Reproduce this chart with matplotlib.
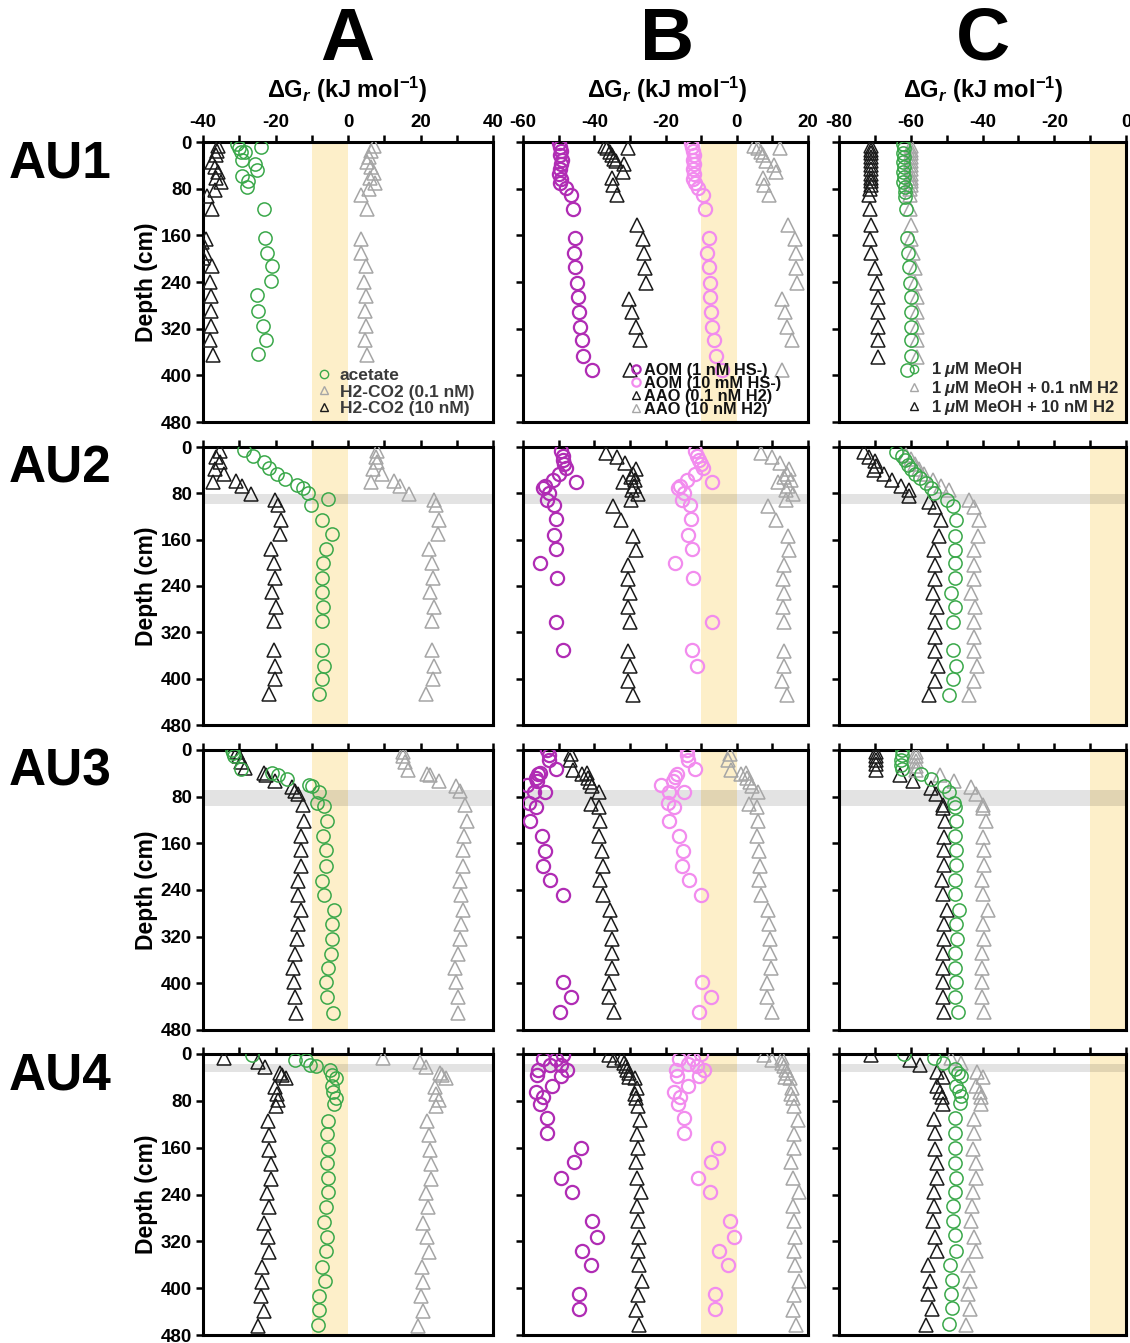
"""Gibbs energy depth profiles for four cores (AU1-AU4) and three reaction groups."""

import matplotlib
matplotlib.use("Agg")
import matplotlib.pyplot as plt
from matplotlib.lines import Line2D
from matplotlib.ticker import MultipleLocator

plt.rcParams["font.family"] = ["Liberation Sans", "DejaVu Sans"]
plt.rcParams["font.weight"] = "bold"
plt.rcParams["axes.unicode_minus"] = False
plt.rcParams["mathtext.fontset"] = "custom"
plt.rcParams["mathtext.rm"] = "Liberation Sans:bold"
plt.rcParams["mathtext.it"] = "Liberation Sans:italic:bold"
plt.rcParams["mathtext.bf"] = "Liberation Sans:bold"

GREEN = "#3aa84a"
MAGENTA = "#b02cb4"
PINK = "#f28cee"
GRAY = "#a6a6a6"
BLACK = "#1a1a1a"

# ---------------- AU1 ----------------
au1_a_acetate_depth = [3, 10, 17, 17, 9, 30, 38, 48, 59, 67, 77, 114, 164, 190, 213, 238, 263, 290, 315, 339, 364]
au1_a_acetate = [-30.5, -30.1, -29.5, -28.4, -24.0, -29.2, -25.7, -25.2, -29.2, -27.5, -28.0, -23.1, -22.8,
                 -22.4, -21.1, -21.3, -25.2, -24.8, -23.4, -22.5, -24.8]
au1_a_h2hi_depth = [7, 16, 22, 34, 42, 52, 62, 69, 82, 92, 115, 166, 171, 191, 199, 213, 240, 264, 290, 316, 340, 365]
au1_a_h2hi = [-36.0, -36.2, -36.4, -37.4, -36.7, -36.0, -36.4, -35.0, -36.7, -39.0, -37.4, -39.3, -40.4, -39.5,
              -40.0, -37.6, -38.1, -37.8, -37.8, -37.8, -38.0, -37.2]
au1_a_h2lo_depth = [7, 16, 25, 34, 43, 53, 62, 70, 80, 90, 115, 166, 191, 213, 240, 264, 290, 316, 340, 365]
au1_a_h2lo = [7.2, 6.4, 5.9, 5.3, 6.4, 7.2, 6.2, 7.5, 5.9, 3.7, 5.2, 3.5, 3.7, 4.9, 4.4, 5.0, 4.8, 5.0, 4.8, 5.3]

au1_b_aom1_depth = [1, 9, 16, 23, 30, 38, 46, 54, 63, 71, 79, 90, 114, 165, 190, 214, 241, 266, 291, 317, 340, 366, 390]
au1_b_aom1 = [-49.9, -49.7, -49.4, -49.7, -49.1, -49.4, -49.7, -49.9, -49.4, -49.7, -48.0, -46.5, -46.1, -45.4,
              -45.7, -45.4, -44.9, -44.6, -44.3, -44.0, -43.4, -43.1, -40.7]
au1_b_aom10_depth = [1, 9, 16, 23, 30, 38, 46, 54, 63, 71, 79, 90, 114, 165, 190, 214, 241, 266, 291, 317, 340, 366,
                     390]
au1_b_aom10 = [-12.8, -12.6, -12.2, -12.0, -12.2, -11.9, -12.2, -11.9, -12.2, -11.7, -10.9, -9.4, -9.0, -7.9,
               -8.3, -7.9, -7.5, -7.5, -7.2, -7.0, -6.4, -5.8, -4.2]
au1_b_aaoblk_depth = [6, 11, 17, 23, 29, 33, 11, 37, 51, 62, 73, 91, 142, 167, 191, 216, 241, 269, 291, 317, 340, 391]
au1_b_aaoblk = [-37.1, -36.4, -35.6, -35.1, -34.5, -33.9, -30.6, -31.7, -31.9, -35.1, -34.7, -33.7, -28.1, -26.3,
                -26.1, -25.8, -25.5, -30.3, -29.4, -28.3, -27.2, -30.0]
au1_b_aaogry_depth = [6, 11, 17, 23, 32, 11, 40, 51, 62, 73, 91, 142, 167, 191, 216, 241, 269, 291, 317, 340, 391]
au1_b_aaogry = [4.8, 6.0, 6.7, 7.4, 8.2, 12.1, 10.4, 11.0, 7.4, 7.6, 9.0, 14.4, 16.4, 16.6, 16.6, 16.9, 12.7,
                13.5, 14.2, 15.5, 12.7]

au1_c_meoh_depth = [3, 10, 18, 26, 34, 43, 51, 60, 69, 77, 86, 94, 115, 165, 190, 214, 241, 266, 291, 317, 340, 366, 390]
au1_c_meoh = [-62.2, -62.0, -62.2, -62.0, -62.2, -62.0, -62.2, -62.0, -62.2, -61.7, -61.7, -61.7, -61.3, -61.1,
              -60.9, -60.6, -60.2, -60.0, -60.0, -60.0, -60.0, -60.0, -61.1]
au1_c_h2_depth = [6, 13, 19, 26, 33, 40, 47, 54, 61, 67, 74, 81, 91, 115, 142, 167, 191, 216, 241, 266, 291, 317, 340, 369]
au1_c_h2lo = [-60.0, -60.0, -59.9, -60.0, -59.9, -60.0, -59.9, -60.0, -60.0, -59.9, -60.0, -60.1, -60.2, -60.2,
              -60.0, -59.8, -59.4, -58.9, -58.7, -58.3, -58.3, -58.3, -58.3, -58.3]
au1_c_h2hi = [-71.1, -71.1, -71.0, -71.1, -71.0, -71.1, -71.0, -71.1, -71.1, -71.0, -71.1, -71.3, -71.7, -71.4,
              -71.1, -71.4, -71.0, -70.0, -69.4, -69.1, -69.1, -69.1, -69.1, -69.1]

# ---------------- AU2 ----------------
au2_a_acetate_depth = [6, 16, 26, 36, 46, 56, 66, 71, 79, 100, 90, 126, 151, 176, 201, 226, 251, 276, 301, 351, 378, 401, 426]
au2_a_acetate = [-28.6, -26.1, -23.3, -21.8, -19.6, -17.5, -14.1, -12.5, -11.0, -10.2, -5.6, -7.1, -4.4, -6.2,
                 -6.9, -7.1, -7.3, -6.8, -7.1, -7.3, -6.5, -7.1, -7.9]
au2_a_h2_depth = [7, 17, 26, 38, 46, 61, 58, 68, 81, 91, 101, 126, 151, 176, 201, 226, 251, 276, 301, 351, 378, 401, 426]
au2_a_h2hi = [-35.4, -36.3, -35.4, -36.8, -34.2, -37.2, -31.0, -29.2, -26.8, -20.1, -19.4, -18.4, -18.7, -21.2,
              -20.3, -20.1, -21.0, -19.9, -20.3, -20.3, -20.1, -20.1, -21.9]
au2_a_h2lo = [8.1, 7.7, 8.1, 6.8, 9.4, 6.3, 12.6, 14.4, 16.8, 23.6, 24.2, 25.1, 24.8, 22.3, 23.2, 23.4, 22.5,
              23.6, 23.2, 23.2, 23.6, 23.4, 21.6]

au2_b_aom1_depth = [7, 15, 23, 30, 36, 47, 57, 61, 67, 71, 80, 91, 101, 125, 152, 176, 201, 226, 302, 351]
au2_b_aom1 = [-49.2, -48.9, -48.7, -48.5, -47.8, -49.8, -51.7, -45.1, -53.9, -54.5, -52.7, -53.4, -51.3, -50.8,
              -51.3, -50.6, -55.3, -50.4, -50.8, -48.9]
au2_b_aom10_depth = [7, 15, 23, 30, 36, 47, 57, 61, 67, 71, 80, 91, 101, 125, 152, 176, 201, 226, 302, 351, 378]
au2_b_aom10 = [-11.6, -11.1, -10.6, -10.1, -9.4, -11.8, -13.9, -7.0, -16.0, -16.5, -14.7, -15.3, -13.2, -12.8,
               -13.7, -12.5, -17.4, -12.2, -7.0, -12.5, -11.1]
au2_b_aao_depth = [10, 17, 28, 38, 47, 51, 61, 57, 67, 74, 81, 92, 102, 126, 154, 178, 203, 228, 252, 277, 302,
                   353, 378, 404, 428]
au2_b_aaoblk = [-36.7, -33.7, -31.3, -28.2, -29.0, -29.7, -32.0, -28.5, -28.8, -29.4, -27.8, -29.7, -34.6, -32.5,
                -29.1, -28.2, -30.4, -30.4, -30.1, -30.4, -30.1, -30.4, -30.1, -30.6, -29.1]
au2_b_aaogry = [6.8, 9.8, 12.2, 14.8, 14.1, 13.4, 11.5, 15.1, 14.5, 13.8, 15.7, 13.8, 8.9, 11.0, 14.3, 14.8,
                13.2, 12.9, 13.4, 12.9, 13.2, 13.2, 13.2, 12.6, 14.1]

au2_c_meoh_depth = [8, 15, 23, 31, 38, 46, 54, 63, 71, 80, 92, 102, 126, 154, 178, 201, 226, 252, 277, 302, 351,
                    378, 400, 428]
au2_c_meoh = [-64.0, -62.5, -61.5, -60.9, -60.0, -58.8, -57.4, -55.8, -54.4, -53.4, -50.0, -48.3, -47.4, -47.6,
              -47.8, -47.8, -47.8, -48.8, -47.6, -48.1, -48.1, -47.4, -48.1, -49.2]
au2_c_h2hi_depth = [8, 17, 25, 32, 40, 47, 57, 67, 74, 84, 95, 104, 126, 154, 178, 203, 228, 252, 277, 302, 328,
                    353, 378, 404, 428]
au2_c_h2hi = [-73.0, -71.6, -69.9, -69.7, -70.2, -67.4, -65.1, -62.8, -60.4, -60.4, -54.8, -53.2, -51.6, -52.2,
              -53.4, -53.2, -53.2, -53.9, -52.8, -53.2, -53.2, -53.2, -52.5, -53.2, -54.8]
au2_c_h2lo_depth = [13, 21, 30, 38, 47, 57, 67, 74, 92, 104, 126, 154, 178, 203, 228, 252, 277, 302, 328, 353,
                    378, 404, 428]
au2_c_h2lo = [-61.4, -60.0, -58.8, -57.8, -56.2, -53.9, -51.6, -49.4, -43.7, -42.3, -40.9, -41.3, -42.5, -42.3,
              -42.3, -43.2, -42.0, -42.5, -42.5, -42.5, -41.6, -42.3, -43.7]

# ---------------- AU3 ----------------
au3_a_acetate_depth = [0, 5, 11, 32, 40, 43, 50, 60, 61, 72, 91, 96, 122, 148, 172, 198, 224, 248, 275, 299, 324,
                       349, 374, 398, 424, 450]
au3_a_acetate = [-32.1, -31.7, -31.5, -29.4, -21.0, -19.2, -16.9, -10.8, -9.9, -7.9, -8.5, -6.7, -5.9, -6.9,
                 -6.2, -6.0, -7.3, -6.7, -3.9, -4.4, -4.4, -4.8, -5.5, -6.0, -5.7, -4.2]
au3_a_h2hi_depth = [3, 11, 20, 31, 40, 43, 53, 63, 70, 76, 94, 122, 148, 172, 198, 224, 248, 275, 299, 324, 349,
                    374, 398, 424, 450]
au3_a_h2hi = [-30.5, -30.1, -29.4, -28.4, -23.3, -22.7, -20.1, -15.5, -14.5, -13.8, -12.5, -12.2, -12.9, -12.9,
              -13.1, -13.8, -13.8, -13.1, -13.8, -14.1, -14.7, -15.3, -15.0, -14.5, -14.4]
au3_a_h2lo_depth = [3, 11, 20, 34, 41, 43, 53, 61, 71, 94, 122, 148, 172, 198, 224, 248, 275, 299, 324, 349, 374,
                    398, 424, 450]
au3_a_h2lo = [15.1, 15.3, 15.6, 16.5, 21.8, 22.5, 25.1, 29.9, 30.8, 32.2, 32.7, 31.9, 31.8, 31.8, 31.0, 31.3,
              31.6, 31.3, 30.8, 30.4, 29.4, 29.9, 30.4, 30.4]

au3_b_aom1_depth = [0, 9, 17, 32, 41, 40, 48, 53, 60, 72, 72, 91, 97, 122, 148, 173, 199, 223, 248, 398, 423, 449]
au3_b_aom1 = [-53.2, -52.7, -52.7, -50.6, -55.8, -55.3, -56.4, -56.2, -58.9, -57.0, -53.9, -58.3, -56.4, -57.9,
              -54.8, -53.9, -54.4, -52.5, -48.9, -48.7, -46.4, -49.5]
au3_b_aom10_depth = [0, 9, 17, 32, 41, 46, 53, 60, 72, 72, 91, 97, 122, 148, 173, 199, 223, 248, 398, 423, 449]
au3_b_aom10 = [-14.1, -13.9, -13.7, -11.6, -16.7, -17.2, -17.9, -21.4, -19.1, -14.8, -19.4, -17.5, -19.1, -16.3,
               -15.0, -15.3, -13.4, -10.0, -9.7, -7.3, -10.6]
au3_b_aao_depth = [6, 17, 34, 41, 40, 48, 54, 61, 72, 93, 98, 122, 148, 173, 199, 223, 248, 274, 298, 324, 348,
                   373, 399, 423, 449]
au3_b_aaoblk = [-46.4, -46.8, -46.1, -43.5, -42.1, -41.7, -41.2, -40.7, -38.8, -41.0, -38.8, -38.4, -38.8, -37.9,
                -37.6, -38.4, -37.6, -35.5, -35.4, -35.1, -35.1, -35.1, -36.0, -36.0, -34.4]
au3_b_aaogry = [-1.9, -2.4, -1.7, 1.1, 2.6, 3.0, 3.8, 4.2, 5.9, 3.5, 5.7, 5.9, 5.7, 6.3, 6.6, 6.3, 6.8, 8.9, 9.1,
                9.4, 9.4, 9.6, 8.5, 8.5, 9.8]

au3_c_meoh_depth = [0, 9, 17, 26, 32, 41, 49, 61, 72, 91, 98, 122, 148, 172, 197, 223, 247, 274, 298, 324, 348,
                    373, 398, 423, 449]
au3_c_meoh = [-62.4, -62.4, -62.6, -62.6, -62.4, -57.1, -54.3, -50.8, -49.2, -48.0, -47.7, -47.5, -47.7, -47.5,
              -47.4, -47.7, -47.7, -46.6, -47.4, -47.1, -47.7, -47.7, -47.5, -47.7, -46.8]
au3_c_h2hi_depth = [3, 10, 17, 24, 34, 43, 53, 65, 76, 94, 99, 122, 149, 172, 197, 223, 247, 274, 298, 324, 348,
                    373, 398, 423, 449]
au3_c_h2hi = [-69.7, -69.7, -69.7, -69.7, -69.7, -63.1, -59.3, -54.3, -53.0, -51.1, -51.1, -50.4, -50.8, -50.6,
              -50.6, -51.3, -51.1, -49.9, -50.8, -50.6, -51.1, -51.1, -51.1, -51.1, -50.8]
au3_c_h2lo_depth = [3, 11, 19, 27, 34, 43, 53, 64, 76, 95, 100, 122, 149, 172, 197, 223, 247, 274, 298, 324, 348,
                    373, 398, 423, 449]
au3_c_h2lo = [-58.6, -58.6, -58.6, -58.6, -58.6, -51.8, -48.0, -43.3, -41.7, -39.8, -39.8, -39.1, -39.8, -39.5,
              -39.5, -40.2, -40.0, -38.6, -39.8, -39.5, -40.2, -40.2, -40.2, -40.2, -39.5]

# ---------------- AU4 ----------------
au4_a_acetate_depth = [1, 10, 10, 18, 21, 28, 36, 41, 55, 65, 75, 85, 114, 137, 162, 186, 211, 236, 262, 287, 313,
                       337, 363, 387, 413, 437, 463]
au4_a_acetate = [-26.4, -14.7, -11.6, -10.4, -8.8, -5.1, -4.4, -3.4, -4.5, -4.2, -3.4, -3.9, -5.5, -5.7, -5.5,
                 -5.7, -5.5, -5.5, -6.2, -6.7, -5.7, -6.0, -7.3, -6.4, -8.1, -7.9, -8.2]
au4_a_h2_depth = [6, 13, 23, 32, 36, 41, 57, 68, 78, 88, 114, 138, 164, 188, 213, 238, 262, 289, 313, 338, 363,
                  389, 413, 439, 464]
au4_a_h2hi = [-34.2, -24.7, -22.9, -18.7, -18.1, -17.1, -20.1, -19.6, -19.2, -19.9, -22.1, -21.8, -21.8, -21.2,
              -21.2, -22.4, -21.9, -23.1, -22.1, -21.8, -23.8, -23.6, -24.0, -23.3, -24.9]
au4_a_h2lo = [9.7, 19.9, 21.4, 25.3, 26.0, 27.1, 23.9, 24.2, 25.1, 24.2, 21.8, 22.3, 22.7, 23.0, 23.0, 21.6,
              22.0, 20.8, 21.8, 22.3, 20.5, 20.6, 20.2, 20.6, 19.3]

au4_b_aom1_depth = [1, 8, 8, 18, 18, 27, 27, 36, 38, 55, 65, 74, 85, 109, 135, 161, 185, 211, 235, 285, 312, 336,
                    360, 410, 435]
au4_b_aom1 = [-48.7, -54.5, -50.8, -52.3, -49.2, -47.7, -55.8, -56.0, -49.2, -52.0, -56.4, -54.3, -55.1, -53.2,
              -53.4, -43.7, -45.8, -49.2, -46.3, -40.7, -39.2, -43.5, -40.9, -44.4, -44.4]
au4_b_aom10_depth = [0, 8, 8, 17, 21, 28, 27, 38, 38, 55, 65, 74, 85, 109, 135, 161, 185, 211, 235, 285, 312, 336,
                     360, 410, 435]
au4_b_aom10 = [-10.0, -16.1, -12.4, -13.8, -11.1, -9.1, -17.1, -16.8, -10.5, -13.6, -17.7, -15.8, -16.6, -14.7,
               -14.7, -5.3, -7.2, -10.9, -7.6, -2.0, -0.8, -5.1, -2.5, -6.2, -6.0]
au4_b_aao_depth = [1, 10, 7, 15, 21, 28, 32, 40, 41, 58, 68, 75, 88, 112, 137, 161, 185, 211, 235, 260, 286, 312,
                   337, 360, 387, 411, 437, 463]
au4_b_aaoblk = [-35.9, -34.5, -32.2, -31.7, -31.2, -30.8, -30.3, -30.3, -28.7, -28.1, -28.7, -28.4, -27.7, -27.2,
                -27.9, -27.7, -28.4, -28.1, -27.0, -27.9, -27.7, -27.5, -27.7, -27.5, -26.5, -27.7, -28.4, -27.5]
au4_b_aaogry = [7.7, 9.8, 12.6, 12.8, 13.4, 13.8, 14.1, 13.6, 15.0, 15.5, 15.3, 15.7, 16.2, 17.2, 16.2, 16.2,
                15.3, 15.7, 17.4, 15.7, 16.2, 16.4, 16.2, 16.4, 17.5, 16.2, 15.7, 16.6]

au4_c_meoh_depth = [0, 7, 16, 25, 32, 38, 54, 63, 72, 84, 109, 135, 161, 186, 211, 235, 260, 285, 310, 336, 360,
                    386, 410, 434, 462]
au4_c_meoh = [-62.0, -53.5, -51.0, -47.6, -46.9, -45.9, -47.4, -46.6, -45.9, -46.2, -47.8, -47.6, -47.8, -47.6,
              -47.4, -47.8, -48.1, -48.1, -47.6, -47.4, -49.1, -48.5, -48.8, -48.5, -49.3]
au4_c_h2hi_depth = [2, 10, 18, 31, 40, 55, 65, 74, 85, 111, 135, 162, 186, 211, 235, 260, 286, 312, 336, 361, 387,
                    410, 435, 463]
au4_c_h2hi = [-71.0, -60.1, -57.3, -52.6, -51.0, -52.6, -51.9, -51.3, -51.1, -53.5, -53.2, -53.2, -52.8, -52.8,
              -53.5, -53.5, -53.8, -53.2, -52.8, -55.1, -54.5, -55.1, -54.2, -55.7]
au4_c_h2lo_depth = [7, 15, 31, 40, 55, 65, 74, 85, 111, 135, 162, 186, 211, 235, 260, 286, 312, 336, 361, 387,
                    410, 435, 463]
au4_c_h2lo = [-48.8, -45.9, -41.5, -40.0, -41.7, -40.7, -40.3, -40.3, -42.4, -42.4, -42.6, -41.9, -41.9, -42.6,
              -42.8, -43.1, -42.4, -41.9, -44.1, -43.6, -44.1, -43.6, -44.7]

row_names = ["AU1", "AU2", "AU3", "AU4"]
col_names = ["A", "B", "C"]
col_xlim = [(-40, 40), (-60, 20), (-80, 0)]
# depth band (cm) marked in grey for each core, None for AU1
grey_bands = [None, (82, 98), (68, 96), (17, 30)]

legend_a = ["acetate", "H2-CO2 (0.1 nM)", "H2-CO2 (10 nM)"]
legend_b = ["AOM (1 nM HS-)", "AOM (10 mM HS-)", "AAO (0.1 nM H2)", "AAO (10 nM H2)"]
legend_c = [r"1 $\mu$M MeOH", r"1 $\mu$M MeOH + 0.1 nM H2", r"1 $\mu$M MeOH + 10 nM H2"]

# series per column: (x values, depths, marker, colour)
panels = [
    [
        [(au1_a_h2hi, au1_a_h2hi_depth, "^", BLACK), (au1_a_h2lo, au1_a_h2lo_depth, "^", GRAY),
         (au1_a_acetate, au1_a_acetate_depth, "o", GREEN)],
        [(au1_b_aaoblk, au1_b_aaoblk_depth, "^", BLACK), (au1_b_aaogry, au1_b_aaogry_depth, "^", GRAY),
         (au1_b_aom1, au1_b_aom1_depth, "o", MAGENTA), (au1_b_aom10, au1_b_aom10_depth, "o", PINK)],
        [(au1_c_h2hi, au1_c_h2_depth, "^", BLACK), (au1_c_h2lo, au1_c_h2_depth, "^", GRAY),
         (au1_c_meoh, au1_c_meoh_depth, "o", GREEN)],
    ],
    [
        [(au2_a_h2hi, au2_a_h2_depth, "^", BLACK), (au2_a_h2lo, au2_a_h2_depth, "^", GRAY),
         (au2_a_acetate, au2_a_acetate_depth, "o", GREEN)],
        [(au2_b_aaoblk, au2_b_aao_depth, "^", BLACK), (au2_b_aaogry, au2_b_aao_depth, "^", GRAY),
         (au2_b_aom1, au2_b_aom1_depth, "o", MAGENTA), (au2_b_aom10, au2_b_aom10_depth, "o", PINK)],
        [(au2_c_h2hi, au2_c_h2hi_depth, "^", BLACK), (au2_c_h2lo, au2_c_h2lo_depth, "^", GRAY),
         (au2_c_meoh, au2_c_meoh_depth, "o", GREEN)],
    ],
    [
        [(au3_a_h2hi, au3_a_h2hi_depth, "^", BLACK), (au3_a_h2lo, au3_a_h2lo_depth, "^", GRAY),
         (au3_a_acetate, au3_a_acetate_depth, "o", GREEN)],
        [(au3_b_aaoblk, au3_b_aao_depth, "^", BLACK), (au3_b_aaogry, au3_b_aao_depth, "^", GRAY),
         (au3_b_aom1, au3_b_aom1_depth, "o", MAGENTA), (au3_b_aom10, au3_b_aom10_depth, "o", PINK)],
        [(au3_c_h2hi, au3_c_h2hi_depth, "^", BLACK), (au3_c_h2lo, au3_c_h2lo_depth, "^", GRAY),
         (au3_c_meoh, au3_c_meoh_depth, "o", GREEN)],
    ],
    [
        [(au4_a_h2hi, au4_a_h2_depth, "^", BLACK), (au4_a_h2lo, au4_a_h2_depth, "^", GRAY),
         (au4_a_acetate, au4_a_acetate_depth, "o", GREEN)],
        [(au4_b_aaoblk, au4_b_aao_depth, "^", BLACK), (au4_b_aaogry, au4_b_aao_depth, "^", GRAY),
         (au4_b_aom1, au4_b_aom1_depth, "o", MAGENTA), (au4_b_aom10, au4_b_aom10_depth, "o", PINK)],
        [(au4_c_h2hi, au4_c_h2hi_depth, "^", BLACK), (au4_c_h2lo, au4_c_h2lo_depth, "^", GRAY),
         (au4_c_meoh, au4_c_meoh_depth, "o", GREEN)],
    ],
]

W, H = 1130, 1343
fig = plt.figure(figsize=(W / 100, H / 100), dpi=100)

col_px = [(203, 493), (523, 808), (839, 1126)]
row_px = [(142, 422), (447, 725), (750, 1030), (1054, 1335)]


def px_axes(x0, x1, y0, y1):
    return fig.add_axes([x0 / W, 1 - y1 / H, (x1 - x0) / W, (y1 - y0) / H])


def mk(marker, color, label):
    lw = 1.6 if color in (MAGENTA, PINK) else 1.0
    return Line2D([], [], ls="none", marker=marker, ms=6, mfc="none", mec=color, mew=lw, label=label)


def add_legend(ax, handles, anchor, spacing, textpad, color, size):
    ax.legend(handles=handles, loc="lower right", frameon=False, fontsize=size,
              handletextpad=textpad, labelspacing=spacing, borderaxespad=0.0,
              handlelength=0.8, labelcolor=color, bbox_to_anchor=anchor)


for r, (y0, y1) in enumerate(row_px):
    for c, (x0, x1) in enumerate(col_px):
        ax = px_axes(x0, x1, y0, y1)
        ax.set_xlim(*col_xlim[c])
        ax.set_ylim(480, 0)
        ax.axvspan(-10, 0, color="#fdefc9", zorder=0, lw=0)
        if grey_bands[r] is not None:
            ax.axhspan(*grey_bands[r], color="black", alpha=0.11, zorder=0.5, lw=0)
        for xs, ds, marker, color in panels[r][c]:
            lw = 1.6 if color in (MAGENTA, PINK) else 1.1
            ms = 9.5 if marker == "o" else 10.5
            ax.plot(xs, ds, ls="none", marker=marker, ms=ms, mfc="none", mec=color, mew=lw, zorder=3)

        ax.xaxis.set_major_locator(MultipleLocator(20))
        ax.xaxis.set_minor_locator(MultipleLocator(10))
        ax.yaxis.set_major_locator(MultipleLocator(80))
        ax.xaxis.tick_top()
        ax.tick_params(axis="both", which="both", direction="out", length=5, width=1.8,
                       labelsize=13.5, pad=3)
        ax.tick_params(axis="x", labeltop=(r == 0))
        ax.tick_params(axis="y", labelleft=(c == 0))
        for s in ax.spines.values():
            s.set_linewidth(2.2)

        if c == 0:
            ax.set_ylabel("Depth (cm)", fontsize=16.5, fontweight="bold", labelpad=2)

        if r == 0:
            if c == 0:
                handles = [mk("o", GREEN, legend_a[0]), mk("^", GRAY, legend_a[1]), mk("^", BLACK, legend_a[2])]
                add_legend(ax, handles, (0.96, -0.005), 0.1, 0.5, "#3a3a3a", 12.5)
            elif c == 1:
                handles = [mk("o", MAGENTA, legend_b[0]), mk("o", PINK, legend_b[1]),
                           mk("^", BLACK, legend_b[2]), mk("^", GRAY, legend_b[3])]
                add_legend(ax, handles, (0.93, -0.005), -0.12, 0.1, "#111111", 11.8)
            else:
                handles = [mk("o", GREEN, legend_c[0]), mk("^", GRAY, legend_c[1]), mk("^", BLACK, legend_c[2])]
                add_legend(ax, handles, (1.0, -0.005), -0.02, 0.6, "#2a2a2a", 12)

    fig.text(60 / W, 1 - (y0 + 22) / H, row_names[r], fontsize=37, fontweight="bold",
             ha="center", va="center")

col_centers = [347, 667, 983]
for c, xc in enumerate(col_centers):
    fig.text(xc / W, 1 - 40 / H, col_names[c], fontsize=54, fontweight="bold", ha="center", va="center")
    fig.text(xc / W, 1 - 90 / H, r"$\Delta$G$_{\mathit{r}}$ (kJ mol$^{-1}$)", fontsize=17,
             fontweight="bold", ha="center", va="center")

fig.savefig("out.png", dpi=100)
